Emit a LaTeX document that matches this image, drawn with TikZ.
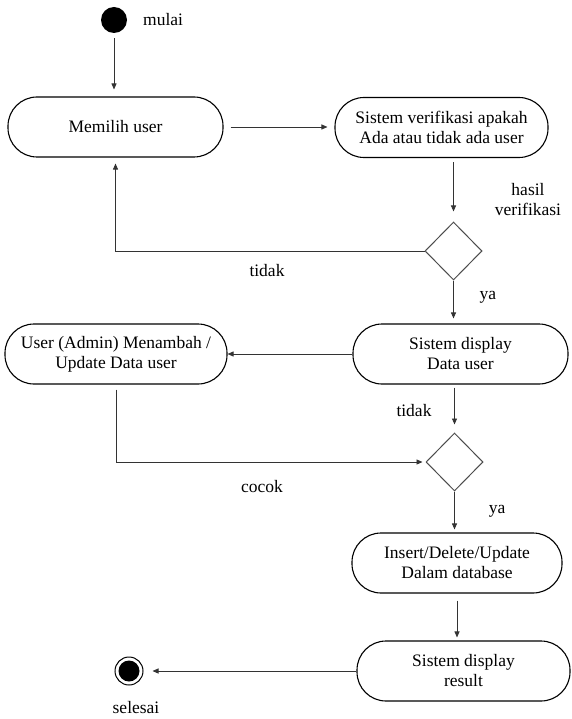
\documentclass[tikz,border=0pt]{standalone}
\usepackage{fontspec}
\setmainfont{Liberation Serif}
\usetikzlibrary{arrows.meta,shapes.geometric,calc}
\begin{document}
\begin{tikzpicture}[x=1pt,y=-1pt,
  every node/.style={font=\fontsize{17.5}{20}\selectfont},
  act/.style={draw=black, line width=1.1pt, rounded corners=29pt, align=center, inner sep=0pt, minimum height=60pt},
  dec/.style={draw=black!70, line width=1pt, diamond, inner sep=0pt, minimum width=57pt, minimum height=58pt},
  flow/.style={draw=black!80, line width=0.9pt, -{Triangle[length=6pt,width=5pt]}},
  lbl/.style={inner sep=0pt, align=center}
]
\useasboundingbox (0,0) rectangle (571,719);
\fill[white] (0,0) rectangle (571,719);

\node[circle, fill=black, minimum size=26pt, inner sep=0pt] (start) at (114,20) {};
\node[act, minimum width=215pt] (pilih) at (115.5,127) {Memilih user};
\node[act, minimum width=213pt] (verif) at (441.5,127.5) {Sistem verifikasi apakah\\Ada atau tidak ada user};
\node[dec] (d1) at (453.5,251) {};
\node[act, minimum width=222pt] (admin) at (116,354) {User (Admin) Menambah /\\Update Data user};
\node[act, minimum width=215pt] (disp) at (460.5,354) {Sistem display\\Data user};
\node[dec] (d2) at (454.5,462) {};
\node[act, minimum width=210pt] (ins) at (457,563) {Insert/Delete/Update\\Dalam database};
\node[act, minimum width=213pt] (res) at (463.5,671) {Sistem display\\result};
\node[circle, draw=black, line width=1pt, minimum size=28pt, inner sep=0pt] (stop) at (129,671) {};
\node[circle, fill=black, minimum size=21pt, inner sep=0pt] (stopin) at (129,671) {};

\node[lbl, anchor=west] (lmulai) at (143,20) {mulai};
\node[lbl] (lhasil) at (528,200) {hasil\\verifikasi};
\node[lbl] (ltidak1) at (267,271) {tidak};
\node[lbl] (lya1) at (488,297) {ya};
\node[lbl] (ltidak2) at (414,411) {tidak};
\node[lbl] (lcocok) at (262,487) {cocok};
\node[lbl] (lya2) at (497,511) {ya};
\node[lbl] (lselesai) at (136,708) {selesai};

\draw[flow, shorten <=5pt, shorten >=7pt] (start) -- (start |- pilih.north);
\draw[flow, shorten <=7pt, shorten >=7pt] (pilih.east) -- (pilih.east -| verif.west);
\draw[flow, shorten <=4pt, shorten >=10pt] (d1.north |- verif.south) -- (d1.north);
\draw[flow, shorten >=6pt] (d1.west) -| (pilih.south);
\draw[flow, shorten >=5pt] (d1.south) -- (d1.south |- disp.north);
\draw[flow] (disp.west) -- (disp.west -| admin.east);
\draw[flow, shorten <=3pt, shorten >=8pt] (d2.north |- disp.south) -- (d2.north);
\draw[flow, shorten <=5pt, shorten >=3pt] (admin.south) |- (d2.west);
\draw[flow, shorten >=3pt] (d2.south) -- (d2.south |- ins.north);
\draw[flow, shorten <=7pt, shorten >=3pt] (ins.south) -- (ins.south |- res.north);
\draw[flow, shorten >=9pt] (res.west) -- (stop.east);
\end{tikzpicture}
\end{document}
